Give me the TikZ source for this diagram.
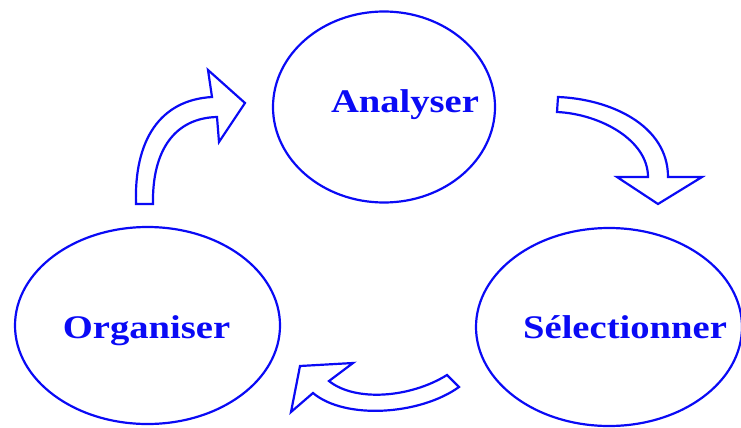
\documentclass[tikz,border=0pt]{standalone}
\usepackage{fontspec}
\setmainfont{Liberation Serif}
\usetikzlibrary{shapes.geometric,positioning,calc}
\definecolor{cycleblue}{RGB}{10,10,245}

\begin{document}
\begin{tikzpicture}[x=1pt,y=-1pt,
    phase/.style={ellipse,draw=cycleblue,line width=2.2pt,inner sep=0pt},
    word/.style={text=cycleblue,font=\fontsize{33}{36}\selectfont\bfseries,xscale=1.17,anchor=base},
    blockarrow/.style={draw=cycleblue,fill=white,line width=2.2pt,line join=miter}]
    \useasboundingbox (0,0) rectangle (741,428);
    % the three phases
    \node[phase,minimum width=222pt,minimum height=191pt] (ana) at (384,107) {};
    \node[phase,minimum width=265pt,minimum height=197pt] (org) at (147.5,325.5) {};
    \node[phase,minimum width=266pt,minimum height=198pt] (sel) at (609,327) {};
    \node[word] (anatxt) at (405,112) {Analyser};
    \node[word] (orgtxt) at (146.5,338) {Organiser};
    \node[word] (seltxt) at (625,338) {Sélectionner};
    % block arrows
    \draw[blockarrow] (136,204) -- (153,204) .. controls (152,150) and (175,118) .. (217,117)
        -- (219,142) -- (245,103) -- (208,70) -- (212,97)
        .. controls (160,100) and (134,140) .. (136,204) -- cycle;
    \draw[blockarrow] (558,97) .. controls (610,99) and (668,125) .. (668,177)
        -- (702,177) -- (658,204) -- (617,177) -- (648,177)
        .. controls (648,140) and (600,114) .. (557,112) -- cycle;
    \draw[blockarrow] (447,375) .. controls (410,398) and (355,402) .. (329,381)
        -- (353,363) -- (300,366) -- (291,412) -- (313,393)
        .. controls (345,420) and (420,415) .. (459,387) -- cycle;
\end{tikzpicture}
\end{document}
